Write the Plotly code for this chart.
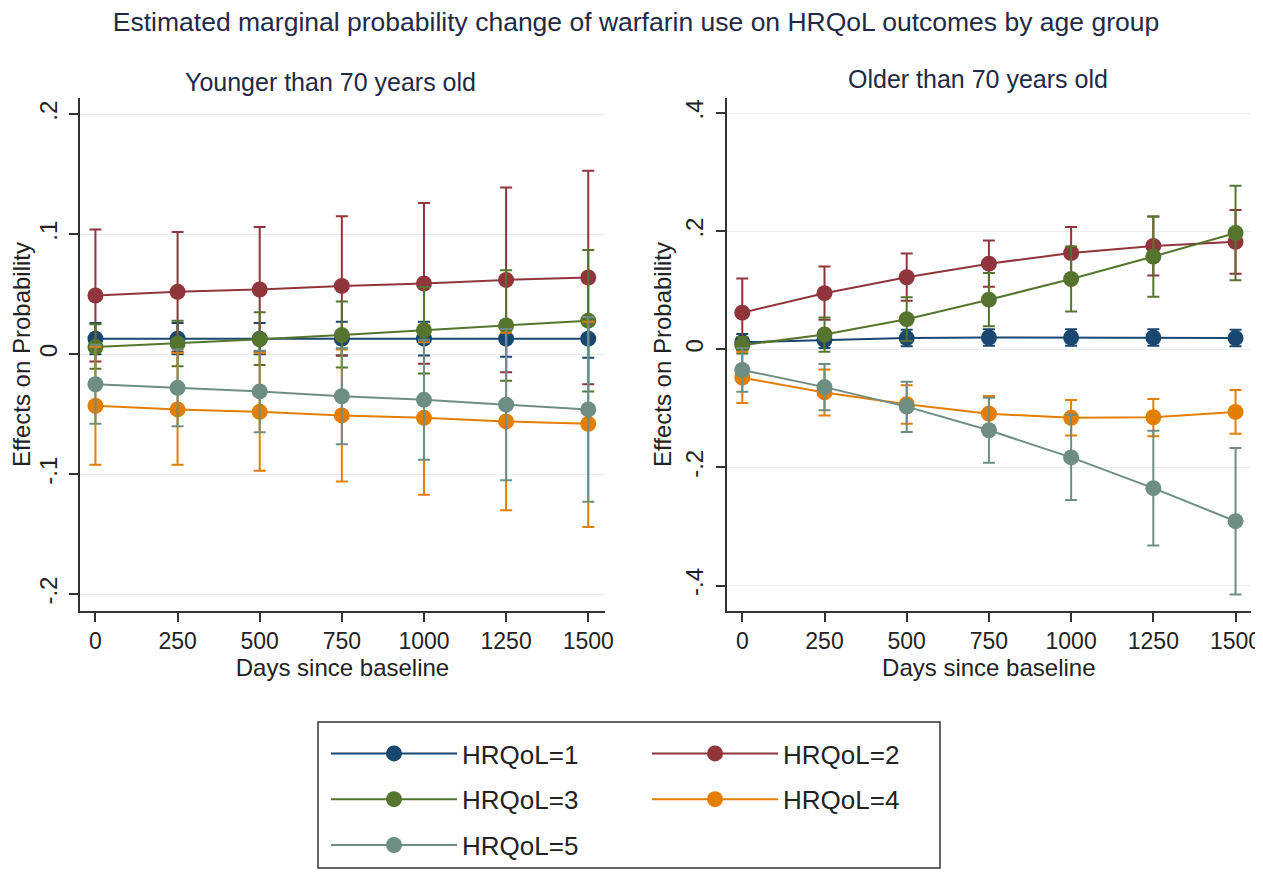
import plotly.graph_objects as go

days = [0, 250, 500, 750, 1000, 1250, 1500]
series_names = ["HRQoL=1", "HRQoL=2", "HRQoL=3", "HRQoL=4", "HRQoL=5"]
colors = ["#1a476f", "#90353b", "#55752f", "#e37e00", "#6e8e84"]

# Younger than 70 years old
young_est_1 = [0.013, 0.013, 0.013, 0.013, 0.013, 0.013, 0.013]
young_lo_1 = [0.000, 0.000, 0.000, -0.001, -0.001, -0.002, -0.003]
young_hi_1 = [0.026, 0.026, 0.026, 0.027, 0.027, 0.028, 0.029]
young_est_2 = [0.049, 0.052, 0.054, 0.057, 0.059, 0.062, 0.064]
young_lo_2 = [-0.006, 0.002, 0.002, -0.001, -0.008, -0.015, -0.025]
young_hi_2 = [0.104, 0.102, 0.106, 0.115, 0.126, 0.139, 0.153]
young_est_3 = [0.006, 0.009, 0.0125, 0.016, 0.020, 0.024, 0.028]
young_lo_3 = [-0.012, -0.010, -0.009, -0.011, -0.016, -0.022, -0.031]
young_hi_3 = [0.025, 0.028, 0.035, 0.044, 0.056, 0.070, 0.087]
young_est_4 = [-0.043, -0.046, -0.048, -0.051, -0.053, -0.056, -0.058]
young_lo_4 = [-0.092, -0.092, -0.097, -0.106, -0.117, -0.130, -0.144]
young_hi_4 = [0.006, 0.001, 0.001, 0.004, 0.010, 0.018, 0.027]
young_est_5 = [-0.025, -0.028, -0.031, -0.035, -0.038, -0.042, -0.046]
young_lo_5 = [-0.058, -0.060, -0.065, -0.075, -0.088, -0.105, -0.123]
young_hi_5 = [0.008, 0.004, 0.003, 0.005, 0.012, 0.021, 0.031]

# Older than 70 years old
old_est_1 = [0.012, 0.016, 0.019, 0.020, 0.020, 0.020, 0.019]
old_lo_1 = [-0.002, 0.002, 0.005, 0.006, 0.006, 0.006, 0.005]
old_hi_1 = [0.026, 0.030, 0.033, 0.034, 0.034, 0.034, 0.033]
old_est_2 = [0.062, 0.095, 0.122, 0.145, 0.163, 0.175, 0.182]
old_lo_2 = [0.004, 0.050, 0.082, 0.106, 0.119, 0.125, 0.128]
old_hi_2 = [0.120, 0.140, 0.162, 0.184, 0.207, 0.225, 0.236]
old_est_3 = [0.007, 0.025, 0.051, 0.084, 0.119, 0.157, 0.197]
old_lo_3 = [-0.007, -0.004, 0.014, 0.039, 0.064, 0.089, 0.117]
old_hi_3 = [0.021, 0.054, 0.088, 0.129, 0.174, 0.225, 0.277]
old_est_4 = [-0.048, -0.073, -0.093, -0.109, -0.116, -0.115, -0.106]
old_lo_4 = [-0.091, -0.112, -0.126, -0.138, -0.146, -0.147, -0.143]
old_hi_4 = [-0.004, -0.034, -0.061, -0.079, -0.086, -0.084, -0.069]
old_est_5 = [-0.035, -0.064, -0.097, -0.137, -0.183, -0.235, -0.291]
old_lo_5 = [-0.072, -0.103, -0.140, -0.192, -0.255, -0.332, -0.415]
old_hi_5 = [0.002, -0.025, -0.055, -0.082, -0.111, -0.138, -0.167]

young = [(young_est_1, young_lo_1, young_hi_1), (young_est_2, young_lo_2, young_hi_2),
         (young_est_3, young_lo_3, young_hi_3), (young_est_4, young_lo_4, young_hi_4),
         (young_est_5, young_lo_5, young_hi_5)]
old = [(old_est_1, old_lo_1, old_hi_1), (old_est_2, old_lo_2, old_hi_2),
       (old_est_3, old_lo_3, old_hi_3), (old_est_4, old_lo_4, old_hi_4),
       (old_est_5, old_lo_5, old_hi_5)]

young_ytick_vals = [-0.2, -0.1, 0, 0.1, 0.2]
young_ytick_text = ["-.2", "-.1", "0", ".1", ".2"]
old_ytick_vals = [-0.4, -0.2, 0, 0.2, 0.4]
old_ytick_text = ["-.4", "-.2", "0", ".2", ".4"]
xtick_vals = [0, 250, 500, 750, 1000, 1250, 1500]

FONT = "Liberation Sans, Arial, Helvetica, sans-serif"
TITLE_COLOR = "#1e2a46"
TEXT_COLOR = "#222222"

# page body has an 8px margin on every side; size the figure so the page does not scroll
OFF = 8
W, H = 1263 - OFF, 877 - 2 * OFF


def px(X):
    return (X - OFF) / W


def py(Y):
    return 1 - (Y - OFF) / H


fig = go.Figure()

legend_for = {0: "legend", 2: "legend", 4: "legend", 1: "legend2", 3: "legend2"}

for panel, data, xa, ya in [(0, young, "x", "y"), (1, old, "x2", "y2")]:
    for i, (est, lo, hi) in enumerate(data):
        plus = [h - e for h, e in zip(hi, est)]
        minus = [e - l for e, l in zip(est, lo)]
        fig.add_trace(go.Scatter(
            x=days, y=est, xaxis=xa, yaxis=ya,
            mode="lines+markers",
            name=series_names[i],
            legendgroup=series_names[i],
            legend=legend_for[i],
            showlegend=(panel == 0),
            line=dict(color=colors[i], width=2),
            marker=dict(color=colors[i], size=16),
            error_y=dict(type="data", symmetric=False, array=plus, arrayminus=minus,
                         color=colors[i], thickness=2, width=6),
        ))

axis_common = dict(
    showline=True, linecolor="#333333", linewidth=1.5,
    ticks="outside", ticklen=9, tickwidth=1.5, tickcolor="#333333",
    zeroline=False, mirror=False, automargin=False, ticklabeloverflow="allow",
)
xtick_font = dict(family=FONT, size=23, color=TEXT_COLOR)
ytick_font = dict(family=FONT, size=24, color=TEXT_COLOR)
title_font = dict(family=FONT, size=24, color=TEXT_COLOR)

xdom1 = [px(80), px(605)]
xdom2 = [px(726.6), px(1251)]
ydom = [py(611), py(98)]

fig.update_layout(
    template="none",
    width=W, height=H,
    margin=dict(l=0, r=0, t=0, b=0, autoexpand=False),
    paper_bgcolor="white", plot_bgcolor="white",
    font=dict(family=FONT, color=TEXT_COLOR),
    xaxis=dict(domain=xdom1, anchor="y", range=[-47, 1551], tickvals=xtick_vals,
               showgrid=False, tickfont=xtick_font,
               title=dict(text="Days since baseline", font=title_font, standoff=5),
               **axis_common),
    yaxis=dict(domain=ydom, anchor="x", range=[-0.214, 0.2136], tickvals=young_ytick_vals,
               ticktext=young_ytick_text, tickangle=-90, showgrid=True, gridcolor="#e8eef0", gridwidth=1.2,
               ticklabelstandoff=3, tickfont=ytick_font,
               title=dict(text="Effects on Probability", font=title_font, standoff=3),
               **axis_common),
    xaxis2=dict(domain=xdom2, anchor="y2", range=[-47.7, 1547], tickvals=xtick_vals,
                showgrid=False, tickfont=xtick_font,
                title=dict(text="Days since baseline", font=title_font, standoff=5),
                **axis_common),
    yaxis2=dict(domain=ydom, anchor="x2", range=[-0.443, 0.4254], tickvals=old_ytick_vals,
                ticktext=old_ytick_text, tickangle=-90, showgrid=True, gridcolor="#e8eef0", gridwidth=1.2,
                ticklabelstandoff=3, tickfont=ytick_font,
                title=dict(text="Effects on Probability", font=title_font, standoff=3),
                **axis_common),
    legend=dict(x=px(326), xanchor="left", y=py(730), yanchor="top",
                orientation="v", itemwidth=126, tracegroupgap=9,
                font=dict(family=FONT, size=26, color=TEXT_COLOR),
                bgcolor="rgba(0,0,0,0)", borderwidth=0, itemclick=False, itemdoubleclick=False),
    legend2=dict(x=px(647), xanchor="left", y=py(730), yanchor="top",
                 orientation="v", itemwidth=126, tracegroupgap=9,
                 font=dict(family=FONT, size=26, color=TEXT_COLOR),
                 bgcolor="rgba(0,0,0,0)", borderwidth=0, itemclick=False, itemdoubleclick=False),
    showlegend=True,
    title=dict(text="Estimated marginal probability change of warfarin use on HRQoL outcomes by age group",
               x=px(636), xanchor="center", y=py(22), yanchor="middle",
               font=dict(family=FONT, size=26.5, color=TITLE_COLOR)),
    annotations=[
        dict(text="Younger than 70 years old", xref="paper", yref="paper",
             x=px(330), y=py(82), xanchor="center", yanchor="middle", showarrow=False,
             font=dict(family=FONT, size=25, color=TITLE_COLOR)),
        dict(text="Older than 70 years old", xref="paper", yref="paper",
             x=px(978), y=py(79), xanchor="center", yanchor="middle", showarrow=False,
             font=dict(family=FONT, size=25, color=TITLE_COLOR)),
    ],
    shapes=[
        dict(type="rect", xref="paper", yref="paper",
             x0=px(318), x1=px(940), y0=py(868), y1=py(722),
             line=dict(color="#333333", width=1.5), fillcolor="rgba(0,0,0,0)"),
    ],
)

fig.write_html("out.html")
